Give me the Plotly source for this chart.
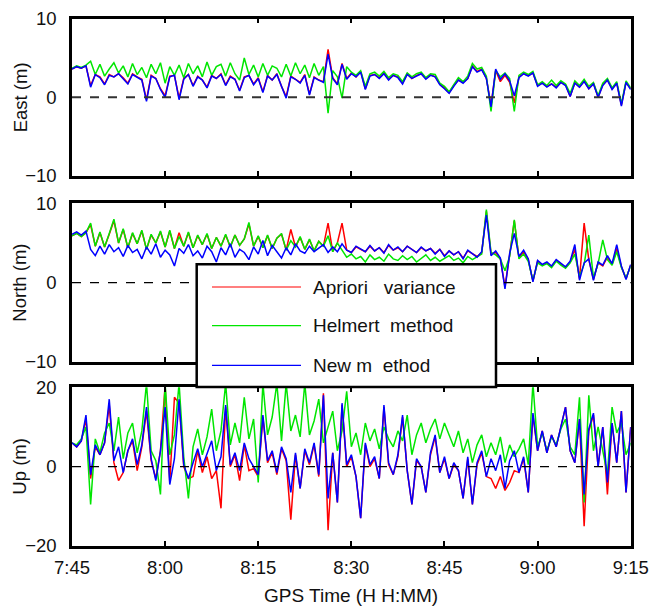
import plotly.graph_objects as go

W, H = 653, 606

# time grid: minutes after 7:45, one sample every 0.75 min
START_MIN = 0.0
STEP_MIN = 0.75
tick_vals = [0, 15, 30, 45, 60, 75, 90]
tick_text = ["7:45", "8:00", "8:15", "8:30", "8:45", "9:00", "9:15"]

series_names = ["Apriori\u00a0\u00a0 variance", "Helmert\u00a0 method", "New m\u00a0 ethod"]
series_colors = ["#ff0000", "#00e600", "#0000ff"]

east_apriori = [3.6, 3.9, 3.7, 4.0, 1.5, 2.9, 2.6, 1.7, 2.9, 2.6,
                3.0, 2.5, 1.8, 3.0, 2.6, 2.3, -0.3, 2.8, 2.4, 1.1,
                0.2, 2.7, 2.8, -0.1, 2.4, 2.9, 1.5, 2.7, 2.2, 1.3,
                2.8, 2.4, 3.0, 1.6, 2.7, 2.3, 0.9, 2.6, 2.8, 1.7,
                2.5, 0.7, 2.8, 2.2, 3.0, 1.4, 0.1, 2.7, 2.3, 1.9,
                2.9, 0.4, 2.6, 2.2, 2.0, 6.1, 2.5, 1.7, 4.3, 2.4,
                3.1, 2.6, 3.3, 1.1, 2.8, 2.9, 2.5, 3.1, 2.3, 2.8,
                2.6, 1.8, 3.0, 2.4, 2.8, 3.0, 2.4, 2.9, 2.6, 1.7,
                1.2, 0.6, 1.5, 2.2, 1.9, 2.4, 4.0, 3.3, 3.6, 2.4,
                -1.0, 3.4, 2.0, 2.8, 1.9, -0.7, 2.6, 3.0, 2.8, 3.1,
                1.5, 1.8, 1.4, 1.7, 1.3, 1.9, 1.6, 0.1, 1.9, 1.3,
                2.1, 1.1, 1.8, 0.0, 1.6, 2.2, 1.1, 1.8, -1.0, 1.9,
                1.1]
east_helmert = [3.7, 4.0, 3.8, 4.1, 4.6, 2.9, 4.2, 2.7, 3.6, 4.4,
                3.1, 4.0, 2.6, 4.3, 2.9, 3.8, 2.5, 4.2, 3.0, 4.4,
                1.8, 3.9, 2.8, 4.1, 2.5, 4.3, 3.0, 4.0, 2.6, 4.5,
                2.8, 3.9, 4.2, 2.7, 4.4, 3.0, 2.2, 5.0, 2.9, 4.1,
                2.6, 4.3, 2.8, 4.0, 3.7, 2.6, 4.2, 2.7, 4.4, 3.0,
                4.1, 2.5, 4.3, 2.8, 3.9, -2.0, 3.4, 2.6, -0.1, 3.9,
                3.2, 2.8, 3.4, 1.4, 3.0, 3.2, 2.7, 3.3, 2.5, 3.0,
                2.8, 2.0, 3.1, 2.6, 3.0, 3.2, 2.5, 3.0, 2.9, 1.8,
                1.4, 0.7, 1.6, 2.5, 2.0, 2.7, 4.3, 3.6, 3.8, 2.7,
                -1.8, 3.4, 2.6, 3.1, 2.4, -1.8, 2.8, 3.2, 2.9, 3.3,
                1.6, 2.0, 1.5, 2.2, 1.5, 2.1, 1.7, 0.5, 2.1, 1.5,
                2.3, 1.4, 1.9, 0.2, 1.8, 2.4, 1.2, 2.0, -0.8, 2.1,
                1.2]
east_new = [3.6, 3.9, 3.7, 4.0, 1.3, 2.9, 2.5, 1.6, 2.8, 2.6,
            3.0, 2.4, 1.7, 2.9, 2.6, 2.2, -0.5, 2.7, 2.4, 1.0,
            0.0, 2.6, 2.8, -0.3, 2.3, 2.9, 1.4, 2.6, 2.2, 1.2,
            2.7, 2.4, 2.9, 1.5, 2.6, 2.3, 0.8, 2.5, 2.8, 1.6,
            2.4, 0.6, 2.7, 2.2, 2.9, 1.3, -0.1, 2.6, 2.3, 1.8,
            2.8, 0.3, 2.5, 2.2, 1.9, 5.5, 2.4, 1.6, 4.2, 2.3,
            3.0, 2.6, 3.2, 1.0, 2.7, 2.9, 2.4, 3.0, 2.2, 2.8,
            2.5, 1.7, 2.9, 2.4, 2.7, 3.0, 2.3, 2.8, 2.6, 1.6,
            1.1, 0.5, 1.4, 2.2, 1.8, 2.4, 3.9, 3.2, 3.5, 2.4,
            -1.2, 3.6, 2.3, 3.0, 2.1, 0.2, 2.5, 3.0, 2.7, 3.1,
            1.4, 1.8, 1.3, 1.7, 1.2, 1.9, 1.5, 0.1, 1.8, 1.3,
            2.0, 1.1, 1.7, 0.0, 1.5, 2.2, 1.0, 1.8, -1.1, 1.9,
            1.0]

north_apriori = [5.9, 6.2, 5.8, 6.3, 7.3, 4.6, 6.3, 4.5, 6.1, 7.8,
                 5.0, 6.7, 4.4, 6.2, 4.9, 6.5, 4.2, 6.0, 5.0, 6.4,
                 4.5, 6.5, 4.3, 6.3, 4.6, 6.3, 4.4, 5.9, 4.8, 6.1,
                 4.3, 5.7, 4.6, 6.0, 4.5, 6.0, 4.7, 5.5, 7.4, 4.6,
                 5.8, 4.4, 5.9, 4.3, 5.6, 6.1, 4.1, 6.7, 4.5, 5.7,
                 4.2, 5.4, 4.0, 5.2, 4.6, 7.5, 3.9, 5.0, 7.5, 4.1,
                 3.8, 4.5, 4.2, 3.9, 4.6, 4.0, 4.4, 3.8, 4.7, 4.1,
                 4.4, 3.9, 4.6, 4.2, 3.8, 4.4, 4.0, 4.3, 3.7, 4.2,
                 3.4, 4.0, 3.5, 3.9, 3.1, 4.0, 3.6, 3.3, 3.8, 9.0,
                 3.6, 3.8, 3.0, -0.5, 3.5, 7.8, 3.1, 3.9, 2.9, 0.2,
                 2.7, 2.2, 2.5, 2.0, 2.8, 2.3, 1.9, 2.6, 4.2, 0.5,
                 7.5, 2.9, 0.4, 2.5, 2.1, 3.2, 2.3, 4.3, 2.0, 0.5,
                 2.2]
north_helmert = [5.9, 6.2, 5.8, 6.3, 7.5, 4.6, 6.4, 4.5, 6.2, 8.0,
                 5.0, 6.8, 4.4, 6.3, 4.9, 6.6, 4.2, 6.1, 5.0, 6.5,
                 4.5, 6.6, 4.3, 5.8, 4.6, 6.4, 4.4, 6.0, 4.8, 6.2,
                 4.3, 5.7, 4.6, 6.1, 4.5, 6.0, 4.7, 5.5, 7.6, 4.6,
                 5.9, 4.4, 6.0, 4.3, 5.6, 6.2, 4.1, 5.3, 4.5, 5.8,
                 4.2, 5.5, 4.0, 5.2, 4.6, 5.9, 3.9, 5.0, 4.1, 3.2,
                 3.6, 3.0, 3.3, 2.6, 3.5, 2.9, 3.2, 2.7, 3.6, 3.0,
                 2.8, 3.4, 2.9, 3.3, 2.6, 3.1, 3.5, 2.8, 3.2, 2.7,
                 3.0, 3.4, 2.8, 3.1, 2.5, 3.3, 2.9, 3.2, 3.6, 9.2,
                 3.8, 3.5, 3.0, 1.5, 3.3, 7.9, 3.0, 3.6, 2.7, 0.3,
                 2.5, 2.1, 2.4, 1.9, 2.7, 2.2, 1.8, 2.5, 3.6, 0.8,
                 2.3, 6.0, 0.6, 2.4, 5.4, 2.9, 2.2, 3.9, 1.9, 0.6,
                 2.1]
north_new = [6.1, 6.4, 6.0, 6.5, 4.2, 3.4, 4.6, 3.6, 4.8, 3.9,
             4.4, 3.3, 4.7, 3.8, 4.2, 3.0, 4.5, 3.6, 4.9, 3.2,
             4.1, 3.5, 2.1, 4.3, 3.7, 4.8, 3.4, 4.0, 3.1, 4.6,
             3.9, 2.6, 4.4, 3.5, 4.9, 3.2, 4.2, 3.8, 2.9, 4.5,
             3.6, 5.3, 3.4, 4.7, 3.9, 3.1, 4.4, 3.5, 4.9, 4.0,
             3.7, 4.6, 3.9, 4.3, 4.8, 3.8, 4.5, 3.9, 4.9, 4.1,
             3.8, 4.6, 4.2, 3.9, 4.7, 4.0, 4.4, 3.7, 4.8, 4.1,
             4.5, 3.9, 4.6, 4.2, 3.8, 4.5, 4.0, 4.3, 3.6, 4.2,
             3.3, 4.0, 3.5, 3.9, 3.0, 4.1, 3.6, 3.2, 3.9, 8.5,
             3.4, 4.0, 3.1, -0.8, 3.7, 6.2, 3.3, 4.1, 3.0, 0.1,
             2.8, 2.3, 2.6, 2.1, 2.9, 2.4, 2.0, 2.7, 4.8, 0.3,
             2.5, 3.0, 0.3, 2.6, 2.2, 3.4, 2.4, 4.8, 2.1, 0.4,
             2.3]

up_apriori = [6.0, 5.0, 6.5, 12.0, -3.0, 5.0, 3.0, 6.0, 15.5, 1.0,
              -3.5, -1.5, 4.0, 6.5, -1.0, 5.0, 14.0, 1.5, -3.0, 4.0,
              20.5, -4.0, 17.5, 16.0, 0.0, -3.0, -2.5, 4.0, -1.5, 2.5,
              -3.0, -1.0, -10.5, 15.0, 0.0, 3.0, -3.5, 5.5, -1.0, -0.5,
              -2.5, 12.5, 1.0, 3.5, -2.0, 4.5, 1.5, -13.4, 3.0, -5.5,
              4.0, 0.5, 5.5, -2.5, 18.5, -16.0, 3.5, -9.0, 15.5, 0.0,
              2.5, -2.5, -13.0, 5.5, 0.0, 2.0, -3.0, 15.0, 0.5, -2.0,
              2.5, 12.5, -1.0, -9.5, 1.5, 0.0, -6.5, 3.0, 7.5, -1.5,
              2.0, -3.0, 0.5, -1.0, -8.0, 2.0, -9.5, 0.5, 3.5, -2.5,
              -3.0, -5.5, -2.5, -6.0, -4.0, -1.0, -1.5, 2.0, -6.5, 13.0,
              4.0, 9.0, 3.5, 8.0, 5.0, 10.0, 15.0, 4.0, 1.0, 12.0,
              -15.0, 9.0, 13.0, 0.0, 10.0, -7.0, 11.0, 1.0, 14.0, -6.5,
              10.0]
up_helmert = [6.0, 5.5, 7.0, 10.0, -9.5, 7.0, 3.5, 8.5, 11.0, 4.0,
              12.5, 2.0, 8.5, 11.0, 3.5, 9.0, 21.0, 4.0, 1.5, -7.0,
              21.0, 3.0, 8.0, 21.0, 2.5, -8.0, 5.0, 9.5, 3.0, 7.5,
              14.5, 4.0, 9.0, 21.0, 5.5, 11.0, 6.0, 17.5, 7.0, 12.0,
              -4.0, 21.0, 8.0, 12.5, 21.0, 6.5, 21.0, 9.0, 13.0, 7.5,
              21.0, 8.0, 11.5, 17.0, 6.0, 10.0, 14.0, 4.0, 9.0, 19.0,
              5.0, 8.5, 3.0, 11.0, 6.5, 9.5, 4.5, 10.0, 7.0, 5.0,
              9.0, 6.5, 13.0, 3.0, 8.0, 11.0, 6.0, 9.5, 12.0, 7.0,
              11.0, 8.0, 5.0, 9.0, 3.5, 7.0, 1.0, 5.5, 8.0, 2.5,
              6.0, 3.0, 7.5, 1.0, 5.5, 2.5, 4.5, 7.0, 0.5, 21.0,
              5.0, 8.5, 4.0, 7.5, 5.5, 9.5, 12.0, 5.0, 3.0, 17.5,
              -9.0, 18.0, 4.0, 10.0, 3.5, -2.0, 15.0, 8.5, 11.0, 3.0,
              6.0]
up_new = [6.0, 5.0, 6.5, 13.0, -2.0, 5.5, 3.0, 6.0, 17.0, 1.5,
          5.0, -1.5, 4.0, 7.0, 0.5, 5.5, 15.0, 2.0, -3.5, 4.0,
          15.0, -4.5, 2.0, 17.0, 0.5, -3.0, 1.0, 4.5, 0.0, 3.0,
          6.5, -1.0, 2.5, 15.5, 0.5, 3.5, -1.0, 6.0, 2.0, 0.0,
          -2.0, 13.0, 1.5, 4.0, -1.5, 5.0, 2.0, -6.5, 3.5, -5.5,
          4.5, 1.0, 6.0, -2.0, 18.0, -8.0, 3.5, -9.0, 16.0, 0.5,
          3.0, -2.5, -13.0, 6.0, 0.5, 2.5, -3.0, 15.5, 1.0, -2.0,
          3.0, 13.0, -1.0, -9.5, 2.0, 0.0, -6.5, 3.5, 8.0, -1.5,
          2.5, -3.0, 1.0, -1.0, -8.0, 2.5, -9.5, 1.0, 4.0, -2.5,
          2.0, -1.0, 3.0, -5.5, 1.5, 4.0, -1.5, 2.5, -6.5, 13.5,
          4.0, 9.0, 3.5, 8.0, 5.0, 10.0, 15.0, 4.0, 1.0, 12.0,
          -7.0, 9.5, 13.5, 0.0, 10.0, -4.0, 11.0, 1.0, 14.0, -6.5,
          10.0]

panels = [
    ("East (m)", [east_apriori, east_helmert, east_new], [-10, 0, 10], [-10, 10]),
    ("North (m)", [north_apriori, north_helmert, north_new], [-10, 0, 10], [-10, 10]),
    ("Up (m)", [up_apriori, up_helmert, up_new], [-20, 0, 20], [-20, 20]),
]

FONT = "Liberation Sans, Arial, Helvetica, sans-serif"
TXT = "#111111"

# pixel layout -> paper fractions
x_left, x_right = 72, 630.7
panel_px = [(18.7, 176.0), (203.3, 362.0), (387.3, 546.0)]


def px_x(p):
    return p / W


def px_y(p):
    return 1 - p / H


fig = go.Figure()
layout = dict(
    width=W, height=H, autosize=False,
    margin=dict(l=0, r=0, t=0, b=0, pad=0),
    paper_bgcolor="white", plot_bgcolor="white",
    showlegend=False,
    font=dict(family=FONT, size=18.5, color=TXT),
)

shapes = []
annotations = []

for k, (title, vals_list, yticks, yrange) in enumerate(panels):
    xa = "x" if k == 0 else f"x{k+1}"
    ya = "y" if k == 0 else f"y{k+1}"
    for vals, name, col in zip(vals_list, series_names, series_colors):
        t = [START_MIN + STEP_MIN * i for i in range(len(vals))]
        fig.add_trace(go.Scatter(x=t, y=vals, mode="lines", name=name,
                                 line=dict(color=col, width=1.5),
                                 xaxis=xa, yaxis=ya, showlegend=False))
    top, bot = panel_px[k]
    xkey = "xaxis" if k == 0 else f"xaxis{k+1}"
    ykey = "yaxis" if k == 0 else f"yaxis{k+1}"
    layout[xkey] = dict(
        domain=[px_x(x_left), px_x(x_right)], anchor=ya, range=[0, 90],
        tickmode="array", tickvals=tick_vals, ticktext=tick_text,
        showticklabels=(k == 2), ticks="inside", ticklen=5, tickwidth=1.5, tickcolor="black",
        showline=True, linewidth=2.5, linecolor="black", mirror="ticks",
        showgrid=False, zeroline=False, ticklabelstandoff=3, automargin=False,
        tickfont=dict(size=18.5, family=FONT, color=TXT),
    )
    if k > 0:
        layout[xkey]["matches"] = "x"
    layout[ykey] = dict(
        domain=[px_y(bot), px_y(top)], anchor=xa, range=yrange,
        tickmode="array", tickvals=yticks, ticks="",
        showline=True, linewidth=2.5, linecolor="black", mirror=True,
        showgrid=False, zeroline=False, ticklabelstandoff=9, automargin=False,
        tickfont=dict(size=18.5, family=FONT, color=TXT),
    )
    shapes.append(dict(type="line", xref=f"{xa} domain", yref=ya, x0=0, x1=1, y0=0, y1=0,
                       line=dict(color="#333333" if k == 0 else "black",
                                 width=2 if k == 0 else 1.3, dash="dash"),
                       layer="above"))
    annotations.append(dict(text=title, xref="paper", yref="paper",
                            x=px_x(20), y=px_y((top + bot) / 2), textangle=-90,
                            showarrow=False, xanchor="center", yanchor="middle",
                            font=dict(size=18.5, family=FONT, color=TXT)))

# x axis title
annotations.append(dict(text="GPS Time (H H:MM)", xref="paper", yref="paper",
                        x=px_x((x_left + x_right) / 2), y=px_y(595), showarrow=False,
                        xanchor="center", yanchor="middle",
                        font=dict(size=19, family=FONT, color=TXT)))

# legend box (drawn manually to match the long line samples)
shapes.append(dict(type="rect", xref="paper", yref="paper",
                   x0=px_x(196.7), x1=px_x(496), y0=px_y(387), y1=px_y(264.3),
                   fillcolor="white", line=dict(color="black", width=2.5), layer="above"))
leg_y = [287, 325.7, 365.3]
for name, col, yy in zip(series_names, series_colors, leg_y):
    shapes.append(dict(type="line", xref="paper", yref="paper",
                       x0=px_x(212), x1=px_x(301), y0=px_y(yy), y1=px_y(yy),
                       line=dict(color=col, width=1.2), layer="above"))
    annotations.append(dict(text=name, xref="paper", yref="paper",
                            x=px_x(311), y=px_y(yy), showarrow=False,
                            xanchor="left", yanchor="middle",
                            font=dict(size=19, family=FONT, color=TXT)))

layout["shapes"] = shapes
layout["annotations"] = annotations
fig.update_layout(**layout)

fig.write_html("out.html")
